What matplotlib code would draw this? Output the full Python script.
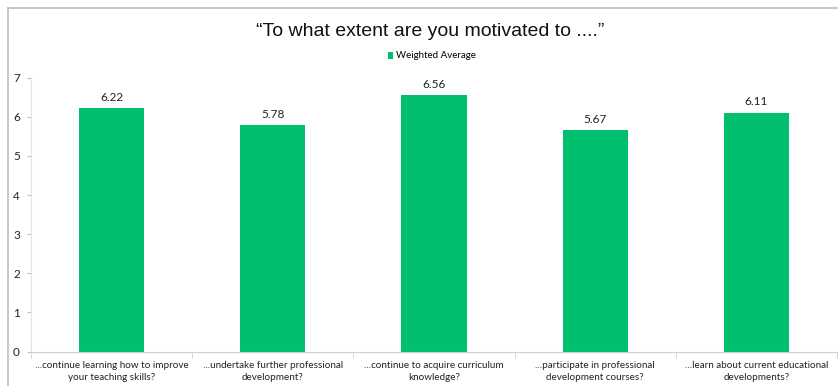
import matplotlib
matplotlib.use("Agg")
import matplotlib.pyplot as plt
from matplotlib.lines import Line2D
import numpy as np

categories = ["...continue learning how to improve\nyour teaching skills?",
              "...undertake further professional\ndevelopment?",
              "...continue to acquire curriculum\nknowledge?",
              "...participate in professional\ndevelopment courses?",
              "...learn about current educational\ndevelopments?"]
values = [6.22, 5.78, 6.56, 5.67, 6.11]
series_name = "Weighted Average"
title = "\u201cTo what extent are you motivated to ....\u201d"

W, H = 838, 386
fig = plt.figure(figsize=(W/100, H/100), dpi=100)
ax = fig.add_axes([31/W, 1 - 351.5/H, 806/W, (351.5 - 77.7)/H])

small_font = "Lato"
green = "#00BF6F"
x = np.arange(len(categories))
bars = ax.bar(x, values, width=0.405, color=green, label=series_name, zorder=2)
for xi, v in zip(x, values):
    ax.text(xi, v + 0.13, f"{v:.2f}", ha="center", va="bottom", fontsize=8.5,
            family=small_font, color="#222222")

ax.set_xlim(-0.5, len(categories) - 0.5)
ax.set_ylim(0, 7)
ax.set_yticks(range(0, 8))
ax.tick_params(axis="y", labelsize=8.5, length=3, color="#bfbfbf", pad=5, labelcolor="#222222")
for lab in ax.get_yticklabels():
    lab.set_family(small_font)
ax.set_xticks(x)
ax.set_xticklabels(categories, fontsize=7.1, family=small_font, color="#222222",
                   linespacing=1.45)
ax.tick_params(axis="x", length=0, pad=7)
ax.set_xticks(np.arange(len(categories) + 1) - 0.5, minor=True)
ax.tick_params(axis="x", which="minor", length=4, color="#d0d0d0")

for s in ["top", "right"]:
    ax.spines[s].set_visible(False)
ax.spines["left"].set_color("#e3e3e3")
ax.spines["bottom"].set_color("#d0d0d0")
ax.spines["left"].set_linewidth(0.8)
ax.spines["bottom"].set_linewidth(0.8)

fig.text(430/W, 1 - 31/H, title, ha="center", va="center", fontsize=14,
         family="Liberation Sans", color="#111111")
leg = fig.legend(handles=[bars], labels=[series_name], loc="center",
                 bbox_to_anchor=(432/W, 1 - 56/H), frameon=False,
                 prop={"family": small_font, "size": 7},
                 handlelength=0.5, handleheight=0.7, handletextpad=0.3)

# outer frame lines
fig.add_artist(Line2D([8/W, 1], [1 - 8/H, 1 - 8/H], color="#bfbfbf", lw=1.2, transform=fig.transFigure))
fig.add_artist(Line2D([8/W, 8/W], [0, 1 - 8/H], color="#bfbfbf", lw=1.2, transform=fig.transFigure))

fig.savefig("out.png", dpi=100)
